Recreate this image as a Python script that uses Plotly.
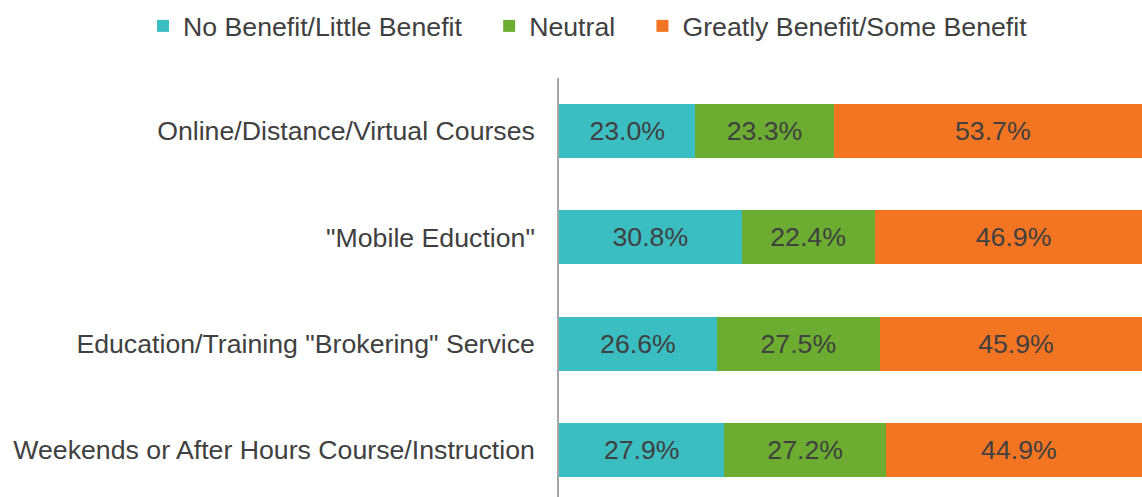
import plotly.graph_objects as go

categories = [
    "Online/Distance/Virtual Courses",
    "\"Mobile Eduction\"",
    "Education/Training \"Brokering\" Service",
    "Weekends or After Hours Course/Instruction",
]
series_names = [
    "No Benefit/Little Benefit",
    "Neutral",
    "Greatly Benefit/Some Benefit",
]
no_benefit = [23.0, 30.8, 26.6, 27.9]
neutral = [23.3, 22.4, 27.5, 27.2]
great_benefit = [53.7, 46.9, 45.9, 44.9]
colors = ["#3BBEC1", "#6CAD31", "#F37521"]

FONT = "Liberation Sans, Arial, sans-serif"
TXT = "#404040"
FS = 26.7

NB = "\u00a0"
legend_pad = [NB * 3, NB * 3, ""]

W, H = 1142, 497
ML, MT = 559, 78
PW, PH = W - ML, H - MT

fig = go.Figure()
for name, vals, col, p in zip(series_names, [no_benefit, neutral, great_benefit], colors, legend_pad):
    fig.add_trace(go.Bar(
        y=categories, x=vals, name=name + p, orientation="h",
        marker=dict(color=col, line=dict(width=0)),
        text=[f"{v:.1f}%" for v in vals],
        textposition="inside", insidetextanchor="middle",
        textfont=dict(family=FONT, size=FS, color=TXT),
        cliponaxis=True,
    ))

fig.update_layout(
    barmode="stack",
    width=W, height=H,
    margin=dict(l=ML, r=0, t=MT, b=0, pad=0, autoexpand=False),
    paper_bgcolor="white", plot_bgcolor="white",
    bargap=0.49,
    font=dict(family=FONT, size=FS, color=TXT),
    legend=dict(
        orientation="h", xref="paper", yref="paper",
        x=(143 - ML) / PW, xanchor="left",
        y=(H - 26) / PH, yanchor="middle",
        font=dict(family=FONT, size=FS, color=TXT),
        traceorder="normal", itemclick=False, bgcolor="rgba(0,0,0,0)",
    ),
    xaxis=dict(range=[0, 98.3], showgrid=False, zeroline=False, showticklabels=False,
               showline=False, fixedrange=True),
    yaxis=dict(type="category", categoryorder="array", categoryarray=categories,
               range=[3.443, -0.5], showgrid=False, zeroline=False, automargin=False,
               showline=True, linecolor="#A6A6A6", linewidth=1.5,
               ticks="", ticklabelstandoff=17, fixedrange=True,
               tickfont=dict(family=FONT, size=FS, color=TXT)),
)

fig.write_html(
    "out.html",
    config={"displayModeBar": False},
    post_script="document.body.style.margin='0';document.body.style.overflow='hidden';",
)
